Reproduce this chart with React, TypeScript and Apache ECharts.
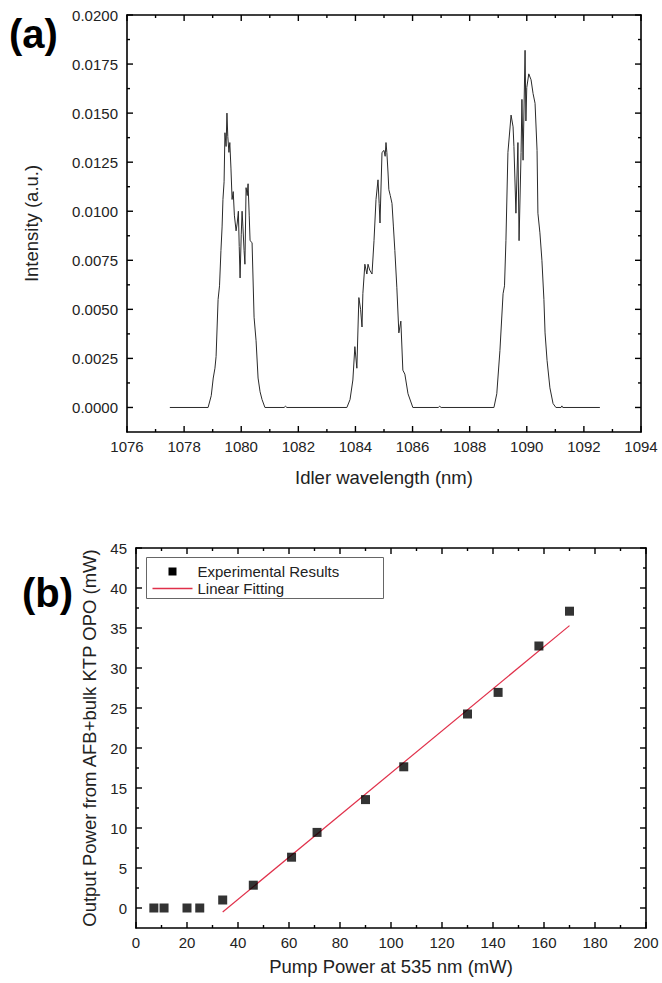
import React, { useEffect, useRef } from "react";
import * as echarts from "echarts";

// ---------- Panel (a): idler spectrum ----------
const SPEC_WAVELENGTH = [
  1077.5, 1078.84, 1078.95, 1079.02, 1079.08, 1079.12, 1079.19, 1079.24, 1079.29, 1079.33,
  1079.36, 1079.4, 1079.43, 1079.47, 1079.5, 1079.53, 1079.57, 1079.6, 1079.64, 1079.68,
  1079.72, 1079.76, 1079.82, 1079.86, 1079.9, 1079.93, 1079.96, 1080.0, 1080.03, 1080.06,
  1080.1, 1080.13, 1080.17, 1080.21, 1080.24, 1080.28, 1080.31, 1080.38, 1080.45, 1080.52,
  1080.59, 1080.66, 1080.73, 1080.83, 1081.5, 1081.55, 1081.6, 1083.7,
  1083.81, 1083.91, 1083.98, 1084.05, 1084.12, 1084.18, 1084.23, 1084.26, 1084.33, 1084.4,
  1084.44, 1084.5, 1084.58, 1084.65, 1084.72, 1084.79, 1084.83, 1084.86, 1084.93, 1085.0,
  1085.04, 1085.07, 1085.1, 1085.14, 1085.17, 1085.22, 1085.28, 1085.33, 1085.38, 1085.45,
  1085.52, 1085.59, 1085.66, 1085.73, 1085.84, 1086.01, 1086.9, 1086.95, 1087.0, 1088.85,
  1088.95, 1089.06, 1089.17, 1089.22, 1089.27, 1089.34, 1089.45, 1089.52, 1089.55, 1089.62,
  1089.69, 1089.73, 1089.8, 1089.83, 1089.87, 1089.94, 1089.97, 1090.0, 1090.07, 1090.15,
  1090.22, 1090.29, 1090.36, 1090.39, 1090.46, 1090.53, 1090.6, 1090.64, 1090.71, 1090.81,
  1090.92, 1091.02, 1091.2, 1091.23, 1091.26, 1092.56,
];
const SPEC_INTENSITY = [
  0, 0, 0.0006, 0.0015, 0.002, 0.0026, 0.0055, 0.0062, 0.008, 0.0092,
  0.0106, 0.0115, 0.014, 0.0133, 0.015, 0.0138, 0.013, 0.0135, 0.0122, 0.0106,
  0.011, 0.0098, 0.009, 0.0094, 0.01, 0.0082, 0.0066, 0.0088, 0.01, 0.0092,
  0.008, 0.0073, 0.0112, 0.0108, 0.0114, 0.0098, 0.0085, 0.0084, 0.0046, 0.0034,
  0.0015, 0.0008, 0.0004, 0, 0, 0.00006, 0, 0,
  0.0004, 0.0014, 0.0031, 0.002, 0.0056, 0.005, 0.0041, 0.0058, 0.0073, 0.0068,
  0.0073, 0.007, 0.0068, 0.0085, 0.0106, 0.0116, 0.0104, 0.0094, 0.013, 0.0131,
  0.0128, 0.0135, 0.013, 0.012, 0.0111, 0.0108, 0.0104, 0.0092, 0.008, 0.0061,
  0.0038, 0.0044, 0.0019, 0.0017, 0.0007, 0, 0, 0.00006, 0, 0,
  0.0007, 0.0029, 0.0058, 0.0062, 0.0085, 0.013, 0.0149, 0.0143, 0.0133, 0.0099,
  0.0135, 0.0085, 0.013, 0.0157, 0.0126, 0.0182, 0.0146, 0.0163, 0.017, 0.0167,
  0.016, 0.0155, 0.0131, 0.0099, 0.0089, 0.0075, 0.0055, 0.0038, 0.0024, 0.001,
  0.0002, 0, 0, 0.00008, 0, 0,
];
const SPEC_X_RANGE = [1076, 1094];
const SPEC_X_STEP = 2;
const SPEC_Y_RANGE = [-0.00125, 0.02];
const SPEC_Y_STEP = 0.0025;
const SPEC_X_MAJOR = [1076, 1078, 1080, 1082, 1084, 1086, 1088, 1090, 1092, 1094];
const SPEC_X_MINOR = [1077, 1079, 1081, 1083, 1085, 1087, 1089, 1091, 1093];
const SPEC_Y_MAJOR = [0, 0.0025, 0.005, 0.0075, 0.01, 0.0125, 0.015, 0.0175, 0.02];
const SPEC_Y_MINOR = [0.00125, 0.00375, 0.00625, 0.00875, 0.01125, 0.01375, 0.01625, 0.01875];

// ---------- Panel (b): OPO output power ----------
const PUMP_POWER = [7, 11, 20, 25, 34, 46, 61, 71, 90, 105, 130, 142, 158, 170];
const OUTPUT_POWER = [0, 0, 0, 0, 1.0, 2.85, 6.35, 9.45, 13.55, 17.65, 24.25, 26.95, 32.75, 37.1];
const FIT_X = [34, 170];
const FIT_Y = [-0.5, 35.3];
const PUMP_X_RANGE = [0, 200];
const PUMP_X_STEP = 20;
const OUT_Y_RANGE = [-2.5, 45];
const OUT_Y_STEP = 5;
const PUMP_X_MAJOR = [0, 20, 40, 60, 80, 100, 120, 140, 160, 180, 200];
const PUMP_X_MINOR = [10, 30, 50, 70, 90, 110, 130, 150, 170, 190];
const OUT_Y_MAJOR = [0, 5, 10, 15, 20, 25, 30, 35, 40, 45];
const OUT_Y_MINOR = [2.5, 7.5, 12.5, 17.5, 22.5, 27.5, 32.5, 37.5, 42.5];

const FONT = "'Liberation Sans', Arial, sans-serif";
const TXT = "#222";
const TITLE_SIZE = 18.5;

function xAxesFor(grid: number, range: number[], step: number, name: string, nameGap: number) {
  return ["bottom", "top"].map((pos, i) => ({
    type: "value",
    gridIndex: grid,
    position: pos,
    min: range[0],
    max: range[1],
    interval: step,
    name: i === 0 ? name : "",
    nameLocation: "middle",
    nameGap,
    nameTextStyle: { fontFamily: FONT, fontSize: TITLE_SIZE, color: TXT },
    axisLine: { show: true, onZero: false, lineStyle: { color: "#000", width: 1.6 } },
    axisTick: { show: false },
    minorTick: { show: false },
    axisLabel: {
      show: i === 0,
      margin: 7,
      fontFamily: FONT,
      fontSize: 15,
      color: TXT,
      formatter: (v: number) => String(v),
    },
    splitLine: { show: false },
  }));
}

function yAxesFor(
  grid: number,
  range: number[],
  step: number,
  fmt: (v: number) => string,
  name: string,
  nameGap: number
) {
  const half = step / 2;
  const isMajor = (v: number) => Math.abs(v / step - Math.round(v / step)) < 1e-6;
  return ["left", "right"].map((pos, i) => ({
    type: "value",
    gridIndex: grid,
    position: pos,
    min: range[0],
    max: range[1],
    interval: half,
    name: i === 0 ? name : "",
    nameLocation: "middle",
    nameGap,
    nameTextStyle: { fontFamily: FONT, fontSize: TITLE_SIZE, color: TXT },
    axisLine: { show: true, onZero: false, lineStyle: { color: "#000", width: 1.6 } },
    axisTick: { show: false },
    axisLabel: {
      show: i === 0,
      margin: 9,
      fontFamily: FONT,
      fontSize: 15,
      color: TXT,
      formatter: (v: number) => (isMajor(v) && v >= 0 ? fmt(v) : ""),
    },
    splitLine: { show: false },
  }));
}

export default function App() {
  const ref = useRef<HTMLDivElement>(null);
  useEffect(() => {
    if (!ref.current) return;
    const chart = echarts.init(ref.current, undefined, { renderer: "svg" });

    const specData = SPEC_WAVELENGTH.map((w, i) => [w, SPEC_INTENSITY[i]]);
    const pumpData = PUMP_POWER.map((p, i) => [p, OUTPUT_POWER[i]]);
    const fitData = FIT_X.map((x, i) => [x, FIT_Y[i]]);

    const xAxes = [
      ...xAxesFor(0, SPEC_X_RANGE, SPEC_X_STEP, "Idler wavelength (nm)", 36),
      ...xAxesFor(1, PUMP_X_RANGE, PUMP_X_STEP, "Pump Power at 535 nm (mW)", 29),
    ];
    const yAxes = [
      ...yAxesFor(0, SPEC_Y_RANGE, SPEC_Y_STEP, (v) => v.toFixed(4), "Intensity (a.u.)", 86),
      ...yAxesFor(1, OUT_Y_RANGE, OUT_Y_STEP, (v) => String(Math.round(v)), "Output Power from AFB+bulk KTP OPO (mW)", 28),
    ];

    const baseGraphic: any[] = [
      {
        type: "text",
        left: 9,
        top: 14,
        style: { text: "(a)", font: `bold 40px ${FONT}`, fill: "#000" },
      },
      {
        type: "text",
        left: 22,
        top: 573,
        style: { text: "(b)", font: `bold 40px ${FONT}`, fill: "#000" },
      },
      {
        type: "group",
        left: 146,
        top: 557,
        children: [
          {
            type: "rect",
            shape: { x: 0, y: 0, width: 237, height: 41 },
            style: { fill: "#fff", stroke: "#666", lineWidth: 1 },
          },
          {
            type: "rect",
            shape: { x: 22, y: 10, width: 8, height: 8 },
            style: { fill: "#000" },
          },
          {
            type: "line",
            shape: { x1: 6, y1: 31, x2: 46, y2: 31 },
            style: { stroke: "#e0304a", lineWidth: 1.4 },
          },
          {
            type: "text",
            x: 51,
            y: 14,
            style: { text: "Experimental Results", font: `15px ${FONT}`, fill: TXT, verticalAlign: "middle" },
          },
          {
            type: "text",
            x: 51,
            y: 31,
            style: { text: "Linear Fitting", font: `15px ${FONT}`, fill: TXT, verticalAlign: "middle" },
          },
        ],
      },
    ];

    chart.setOption({
      animation: false,
      backgroundColor: "#fff",
      grid: [
        { left: 127, top: 15, width: 514, height: 417 },
        { left: 136, top: 548, width: 510, height: 380 },
      ],
      xAxis: xAxes,
      yAxis: yAxes,
      series: [
        {
          type: "line",
          name: "Spectrum",
          xAxisIndex: 0,
          yAxisIndex: 0,
          data: specData,
          showSymbol: false,
          symbol: "none",
          lineStyle: { color: "#2a2a2a", width: 1 },
        },
        {
          type: "line",
          name: "Linear Fitting",
          xAxisIndex: 2,
          yAxisIndex: 2,
          data: fitData,
          symbol: "none",
          lineStyle: { color: "#e0304a", width: 1.2 },
          z: 2,
        },
        {
          type: "scatter",
          name: "Experimental Results",
          xAxisIndex: 2,
          yAxisIndex: 2,
          data: pumpData,
          symbol: "rect",
          symbolSize: 9,
          itemStyle: { color: "#000" },
          z: 3,
        },
      ],
      graphic: baseGraphic,
    });

    // Inward tick marks on all four sides, placed with the axes' own scales.
    try {
      const tickEls: any[] = [];
      const push = (x1: number, y1: number, x2: number, y2: number) =>
        tickEls.push({
          type: "line",
          silent: true,
          z: 100,
          shape: { x1, y1, x2, y2 },
          style: { stroke: "#000", lineWidth: 1.4 },
        });
      const addTicks = (
        xIdx: number,
        yIdx: number,
        xr: number[],
        yr: number[],
        xMaj: number[],
        xMin: number[],
        yMaj: number[],
        yMin: number[]
      ) => {
        const px = (v: number) => chart.convertToPixel({ xAxisIndex: xIdx } as any, v) as unknown as number;
        const py = (v: number) => chart.convertToPixel({ yAxisIndex: yIdx } as any, v) as unknown as number;
        const yb = py(yr[0]);
        const yt = py(yr[1]);
        const xl = px(xr[0]);
        const xrt = px(xr[1]);
        if (![yb, yt, xl, xrt].every((n) => typeof n === "number" && isFinite(n))) return;
        [...xMaj.map((v) => [v, 6]), ...xMin.map((v) => [v, 3])].forEach(([v, len]) => {
          const x = px(v);
          push(x, yb, x, yb - len);
          push(x, yt, x, yt + len);
        });
        [...yMaj.map((v) => [v, 6]), ...yMin.map((v) => [v, 3])].forEach(([v, len]) => {
          const y = py(v);
          push(xl, y, xl + len, y);
          push(xrt, y, xrt - len, y);
        });
      };
      addTicks(0, 0, SPEC_X_RANGE, SPEC_Y_RANGE, SPEC_X_MAJOR, SPEC_X_MINOR, SPEC_Y_MAJOR, SPEC_Y_MINOR);
      addTicks(2, 2, PUMP_X_RANGE, OUT_Y_RANGE, PUMP_X_MAJOR, PUMP_X_MINOR, OUT_Y_MAJOR, OUT_Y_MINOR);
      if (tickEls.length) chart.setOption({ graphic: [...baseGraphic, ...tickEls] });
    } catch (e) {
      // keep the chart as drawn if tick placement is unavailable
    }

    return () => chart.dispose();
  }, []);
  return <div ref={ref} style={{ position: "fixed", left: 0, top: 0, width: 662, height: 983 }} />;
}
